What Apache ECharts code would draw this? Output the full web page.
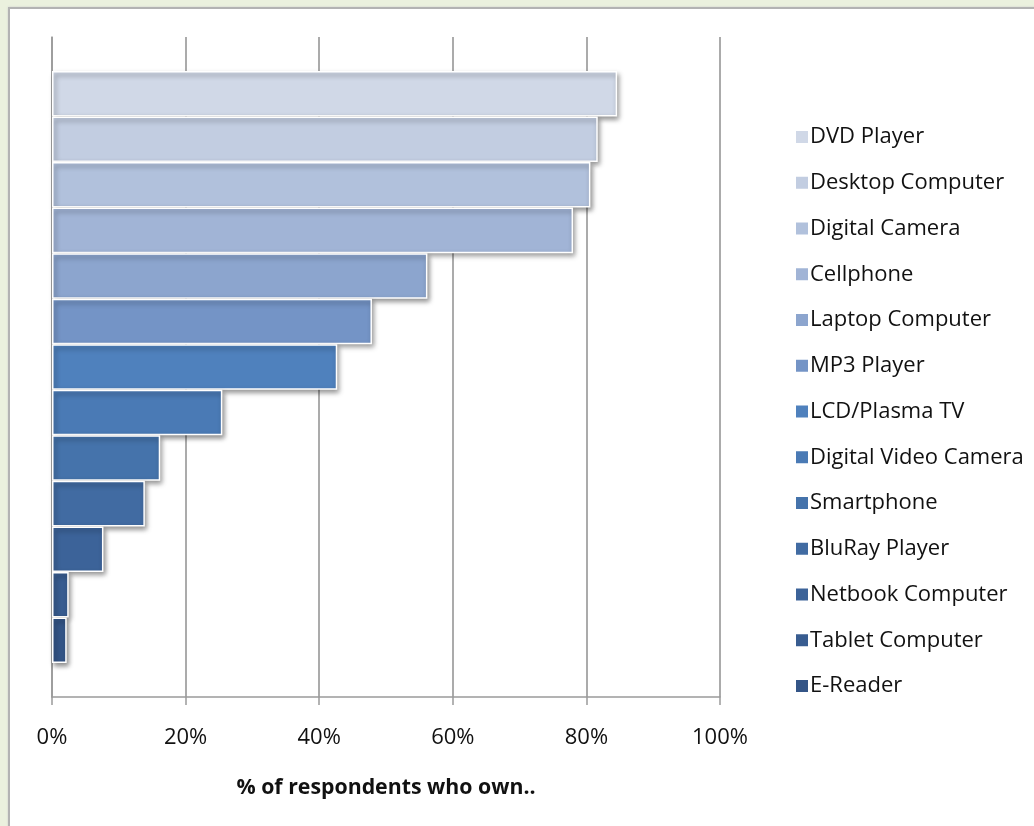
<!DOCTYPE html>
<html>
<head>
<meta charset="utf-8">
<script src="https://cdn.jsdelivr.net/npm/echarts@6/dist/echarts.min.js"></script>
<style>
  html, body { margin: 0; padding: 0; background: #EBF1DE; }
  #frame { position: absolute; left: 8px; top: 7px; width: 1200px; height: 1000px;
           background: #fff; border: 2px solid #b3b3b3; box-shadow: 0 0 2px #d0d0d0; }
  #chart { position: absolute; left: 0; top: 0; width: 1034px; height: 826px; }
</style>
</head>
<body>
<div id="frame"></div>
<div id="chart"></div>
<script>
const categories = [''];
const seriesNames = ['DVD Player', 'Desktop Computer', 'Digital Camera', 'Cellphone',
  'Laptop Computer', 'MP3 Player', 'LCD/Plasma TV', 'Digital Video Camera',
  'Smartphone', 'BluRay Player', 'Netbook Computer', 'Tablet Computer', 'E-Reader'];
const seriesValues = [84.6, 81.7, 80.6, 78.0, 56.2, 47.9, 42.7, 25.5, 16.2, 13.9, 7.7, 2.5, 2.2];
const seriesColors = ['#D0D8E7', '#C2CDE1', '#B1C1DC', '#A1B4D6', '#8CA5CE', '#7494C6',
  '#4F81BD', '#4A7AB5', '#4573AB', '#416BA2', '#3C6399', '#385C90', '#345587'];
const xTicks = [0, 20, 40, 60, 80, 100];

const font = 'Open Sans';
const chart = echarts.init(document.getElementById('chart'), null, { renderer: 'canvas' });

const series = seriesNames.map((name, i) => ({
  name: name,
  type: 'bar',
  data: [seriesValues[i]],
  barGap: '0%',
  barCategoryGap: '10.3%',
  itemStyle: {
    color: seriesColors[i],
    borderColor: '#ffffff',
    borderWidth: 1.5,
    shadowColor: 'rgba(0,0,0,0.45)',
    shadowBlur: 5,
    shadowOffsetX: 2,
    shadowOffsetY: 3
  },
  emphasis: { disabled: true },
  animation: false
}));

chart.setOption({
  backgroundColor: 'transparent',
  animation: false,
  grid: { left: 52, right: 314, top: 37, bottom: 129, containLabel: false },
  legend: {
    orient: 'vertical',
    left: 791,
    top: 120,
    data: seriesNames,
    icon: 'rect',
    itemWidth: 12,
    itemHeight: 12,
    itemGap: 21.75,
    itemStyle: { borderWidth: 0, shadowBlur: 0, shadowOffsetX: 0, shadowOffsetY: 0 },
    textStyle: { fontFamily: font, fontSize: 22, color: '#111', lineHeight: 24, padding: [0, 0, 0, -3] },
    selectedMode: false
  },
  xAxis: {
    type: 'value',
    min: xTicks[0],
    max: xTicks[xTicks.length - 1],
    interval: 20,
    name: '% of respondents who own..',
    nameLocation: 'middle',
    nameGap: 80,
    nameTextStyle: { fontFamily: font, fontSize: 21.3, fontWeight: 'bold', color: '#111' },
    axisLine: { show: true, lineStyle: { color: '#9a9a9a', width: 1.5 } },
    axisTick: { show: true, length: 8, lineStyle: { color: '#9a9a9a', width: 1.5 } },
    axisLabel: { fontFamily: font, fontSize: 22, color: '#111', margin: 30, formatter: '{value}%' },
    splitLine: { show: true, lineStyle: { color: '#8f8f8f', width: 1.5 } }
  },
  yAxis: {
    type: 'category',
    data: categories,
    inverse: true,
    axisLine: { show: true, lineStyle: { color: '#9a9a9a', width: 1.5 } },
    axisTick: { show: false },
    axisLabel: { show: false },
    splitLine: { show: false }
  },
  series: series
});
</script>
</body>
</html>
